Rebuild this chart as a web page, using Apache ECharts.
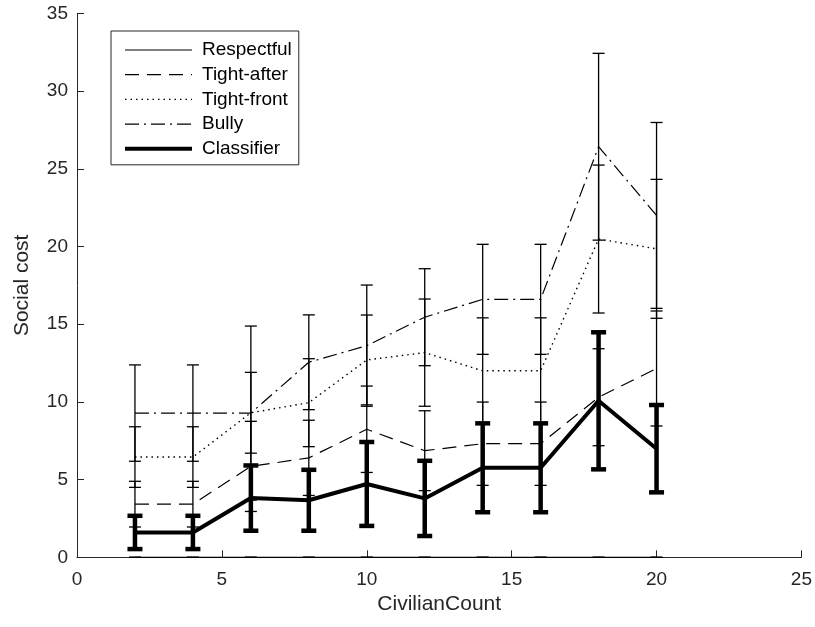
<!DOCTYPE html>
<html>
<head>
<meta charset="utf-8">
<script src="https://cdn.jsdelivr.net/npm/echarts@6/dist/echarts.min.js"></script>
<style>
  html, body { margin: 0; padding: 0; background: #fff; }
  #chart { width: 815px; height: 627px; }
</style>
</head>
<body>
<div id="chart"></div>
<script>
// Civilian counts on the x axis
const civilianCount = [2, 4, 6, 8, 10, 12, 14, 16, 18, 20];

// Mean social cost per strategy
const respectful = [0, 0, 0, 0, 0, 0, 0, 0, 0, 0];
const tightAfter = [3.42, 3.42, 5.85, 6.40, 8.24, 6.86, 7.31, 7.31, 10.30, 12.15];
const tightFront = [6.45, 6.45, 9.30, 9.95, 12.70, 13.17, 12.00, 12.00, 20.48, 19.85];
const bully      = [9.28, 9.28, 9.28, 12.55, 13.62, 15.45, 16.60, 16.60, 26.42, 22.00];
const classifier = [1.60, 1.60, 3.81, 3.67, 4.72, 3.79, 5.76, 5.76, 10.07, 6.99];

// Half-width of the error bars
const respectfulErr = [0, 0, 0, 0, 0, 0, 0, 0, 0, 0];
const tightAfterErr = [1.47, 1.47, 2.90, 2.42, 2.78, 2.57, 2.68, 2.68, 3.12, 3.70];
const tightFrontErr = [1.95, 1.95, 2.60, 2.83, 2.89, 3.45, 3.41, 3.41, 4.76, 4.47];
const bullyErr      = [3.10, 3.10, 5.60, 3.05, 3.90, 3.12, 3.54, 3.54, 6.01, 5.98];
const classifierErr = [1.07, 1.07, 2.10, 1.96, 2.70, 2.42, 2.86, 2.86, 4.41, 2.81];

// Axis ticks
const xTicks = { min: 0, max: 25, step: 5 };
const yTicks = { min: 0, max: 35, step: 5 };

const INK = '#000';
const AXIS = '#262626';
const FONT = '"Liberation Sans", Arial, Helvetica, sans-serif';

const seriesDefs = [
  { name: 'Respectful',  y: respectful, e: respectfulErr, width: 1.2, dash: 'solid', barW: 1.3, cap: 12 },
  { name: 'Tight-after', y: tightAfter, e: tightAfterErr, width: 1.2, dash: [14, 8], barW: 1.3, cap: 12 },
  { name: 'Tight-front', y: tightFront, e: tightFrontErr, width: 1.4, dash: [1.5, 4], barW: 1.3, cap: 12 },
  { name: 'Bully',       y: bully,      e: bullyErr,      width: 1.2, dash: [14, 5, 2, 5], barW: 1.3, cap: 12 },
  { name: 'Classifier',  y: classifier, e: classifierErr, width: 4,   dash: 'solid', barW: 4.5, cap: 15 }
];

function errorBarRenderer(lineWidth, capWidth) {
  return function (params, api) {
    const x = api.value(0);
    const top = api.coord([x, api.value(2)]);
    const bot = api.coord([x, api.value(1)]);
    const h = capWidth / 2;
    const style = { stroke: INK, lineWidth: lineWidth, fill: null };
    return {
      type: 'group',
      children: [
        { type: 'line', shape: { x1: top[0], y1: top[1], x2: bot[0], y2: bot[1] }, style: style },
        { type: 'line', shape: { x1: top[0] - h, y1: top[1], x2: top[0] + h, y2: top[1] }, style: style },
        { type: 'line', shape: { x1: bot[0] - h, y1: bot[1], x2: bot[0] + h, y2: bot[1] }, style: style }
      ]
    };
  };
}

const series = [];
seriesDefs.forEach(function (d, i) {
  series.push({
    type: 'custom',
    name: d.name + ' error',
    renderItem: errorBarRenderer(d.barW, d.cap),
    encode: { x: 0, y: [1, 2] },
    data: civilianCount.map(function (x, k) { return [x, d.y[k] - d.e[k], d.y[k] + d.e[k]]; }),
    z: 2 + i * 2,
    silent: true,
    clip: false
  });
  series.push({
    type: 'line',
    name: d.name,
    data: civilianCount.map(function (x, k) { return [x, d.y[k]]; }),
    symbol: 'none',
    lineStyle: { color: INK, width: d.width, type: d.dash, cap: 'butt' },
    itemStyle: { color: INK },
    z: 3 + i * 2,
    silent: true
  });
});

const chart = echarts.init(document.getElementById('chart'), null, { renderer: 'canvas' });
chart.setOption({
  animation: false,
  backgroundColor: '#fff',
  textStyle: { fontFamily: FONT },
  grid: { left: 77, right: 9.5, top: 13.4, bottom: 69.7, containLabel: false },
  legend: {
    // each key repeats its series' stroke width and dash pattern
    data: seriesDefs.map(function (d) {
      return { name: d.name, lineStyle: { width: d.width, type: d.dash, color: INK, cap: 'butt' } };
    }),
    orient: 'vertical',
    left: 111,
    top: 31,
    padding: [9, 7, 6, 12],
    itemWidth: 67,
    itemHeight: 14,
    itemGap: 4.7,
    borderColor: AXIS,
    borderWidth: 1,
    backgroundColor: '#fff',
    selectedMode: false,
    // legend keys show only the line pattern
    itemStyle: { color: 'rgba(0,0,0,0)', borderColor: 'rgba(0,0,0,0)', borderWidth: 0 },
    textStyle: { fontFamily: FONT, fontSize: 19, lineHeight: 20, color: INK, padding: [0, 0, 0, 5] }
  },
  xAxis: {
    type: 'value',
    min: xTicks.min, max: xTicks.max, interval: xTicks.step,
    name: 'CivilianCount',
    nameLocation: 'middle',
    nameGap: 36,
    nameTextStyle: { fontFamily: FONT, fontSize: 21, color: AXIS },
    axisLine: { onZero: false, lineStyle: { color: AXIS, width: 1 } },
    axisTick: { inside: true, length: 7, lineStyle: { color: AXIS } },
    axisLabel: { fontFamily: FONT, fontSize: 19, color: AXIS, margin: 13 },
    splitLine: { show: false }
  },
  yAxis: {
    type: 'value',
    min: yTicks.min, max: yTicks.max, interval: yTicks.step,
    name: 'Social cost',
    nameLocation: 'middle',
    nameGap: 44,
    nameTextStyle: { fontFamily: FONT, fontSize: 21, color: AXIS },
    axisLine: { onZero: false, lineStyle: { color: AXIS, width: 1 } },
    axisTick: { inside: true, length: 7, lineStyle: { color: AXIS } },
    axisLabel: { fontFamily: FONT, fontSize: 19, color: AXIS, margin: 9 },
    splitLine: { show: false }
  },
  series: series
});
</script>
</body>
</html>
